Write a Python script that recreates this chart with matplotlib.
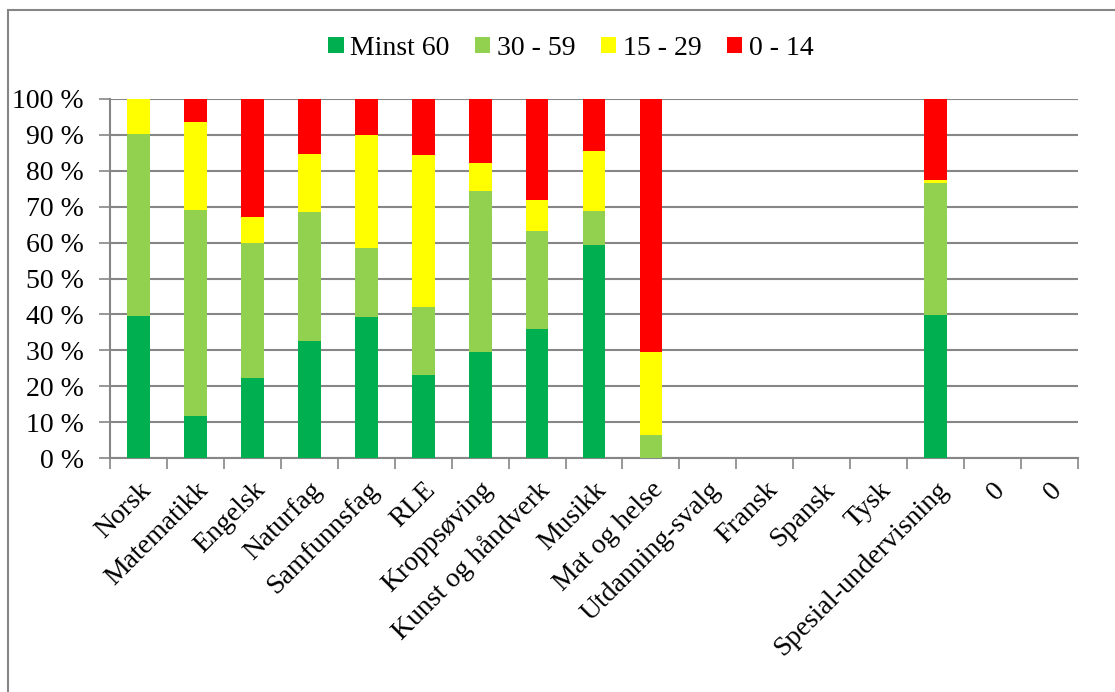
import numpy as np
import matplotlib.pyplot as plt
from matplotlib.patches import Rectangle
from matplotlib.ticker import FuncFormatter

fag = ["Norsk", "Matematikk", "Engelsk", "Naturfag", "Samfunnsfag", "RLE",
       "Kroppsøving", "Kunst og håndverk", "Musikk", "Mat og helse",
       "Utdanning-svalg", "Fransk", "Spansk", "Tysk", "Spesial-undervisning",
       "0", "0"]

# andel elever (%) i hver poenggruppe
minst_60 = [39.5, 11.6, 22.3, 32.7, 39.3, 23.2, 29.5, 36.0, 59.2, 0.0,
            0, 0, 0, 0, 39.8, 0, 0]
p30_59 = [50.7, 57.5, 37.7, 35.7, 19.1, 19.0, 44.9, 27.3, 9.5, 6.5,
          0, 0, 0, 0, 36.7, 0, 0]
p15_29 = [9.8, 24.4, 7.0, 16.2, 31.7, 42.3, 7.8, 8.6, 16.9, 23.0,
          0, 0, 0, 0, 0.9, 0, 0]
p0_14 = [0.0, 6.5, 33.0, 15.4, 9.9, 15.5, 17.8, 28.1, 14.4, 70.5,
         0, 0, 0, 0, 22.6, 0, 0]

serier = [("Minst 60", minst_60, "#00B050"),
          ("30 - 59", p30_59, "#92D050"),
          ("15 - 29", p15_29, "#FFFF00"),
          ("0 - 14", p0_14, "#FF0000")]

plt.rcParams['font.family'] = ['Liberation Serif', 'DejaVu Serif']
grid_col = "#868686"

fig = plt.figure(figsize=(11.15, 6.92), dpi=100)
ax = fig.add_axes([110/1115, 1 - 458/692, 968/1115, 359/692])

x = np.arange(len(fag))
bunn = np.zeros(len(fag))
for navn, verdier, farge in serier:
    ax.bar(x, verdier, width=0.4, bottom=bunn, color=farge, label=navn,
           edgecolor="none", zorder=3)
    bunn += np.array(verdier)

ax.set_xlim(-0.5, len(fag) - 0.5)
ax.set_ylim(0, 100)
ax.set_yticks(np.arange(0, 101, 10))
ax.yaxis.set_major_formatter(FuncFormatter(lambda v, p: f"{int(v)} %"))
ax.grid(axis="y", color=grid_col, linewidth=1.5, zorder=0)
ax.tick_params(axis="y", length=8, width=1.2, color=grid_col,
               labelsize=20, pad=11)

# skillestreker mellom fagene
ax.set_xticks(np.arange(-0.5, len(fag), 1.0))
ax.set_xticklabels([])
ax.set_xticks(x, minor=True)
ax.set_xticklabels(fag, minor=True, rotation=45, ha="right", va="top",
                   rotation_mode="anchor", fontsize=20)
ax.tick_params(axis="x", which="major", length=8, width=1.2, color=grid_col)
ax.tick_params(axis="x", which="minor", length=0, pad=14)

for s in ["top", "right"]:
    ax.spines[s].set_visible(False)
for s in ["left", "bottom"]:
    ax.spines[s].set_color(grid_col)
    ax.spines[s].set_linewidth(1.5)

fig.legend(loc="center", bbox_to_anchor=(0.512, 0.930), ncol=4,
           frameon=False, fontsize=20, handlelength=0.55, handleheight=0.55,
           handletextpad=0.25, columnspacing=0.9)

# ramme rundt diagramområdet
fig.patches.append(Rectangle((8/1115, -0.1), 1.2, 1.1 - 10/692,
                             transform=fig.transFigure, fill=False,
                             edgecolor=grid_col, linewidth=1.5))

fig.savefig("out.png", dpi=100)
